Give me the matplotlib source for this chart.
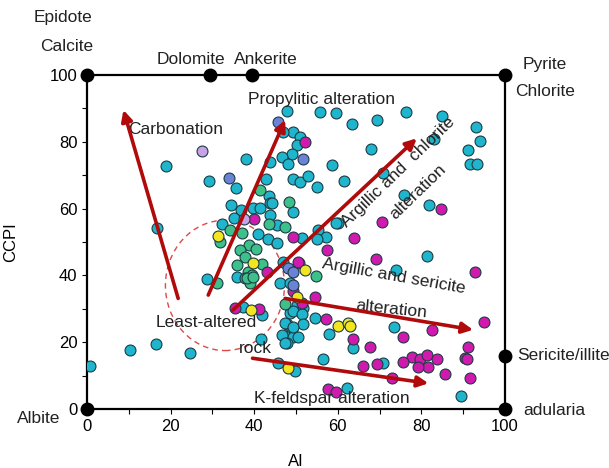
import matplotlib
matplotlib.use('Agg')
import matplotlib.pyplot as plt
from matplotlib.patches import Ellipse

plt.rcParams['font.family'] = ['Liberation Sans', 'DejaVu Sans']

# sample points (AI, CCPI) grouped by colour
cyan_x = [47.8, 55.7, 59.5, 63.3, 69.3, 76.3, 84.9, 93.1, 94.0, 91.2, 91.6, 93.4, 83.0, 67.9, 58.6,
          49.4, 47.0, 51.0, 50.3, 49.0, 46.6, 48.2, 38.0, 43.8, 18.9,
          29.3, 35.6, 42.8, 49.2, 51.0, 52.9, 55.0, 61.5, 70.8,
          43.5, 43.8, 49.4, 34.4, 36.8, 39.8, 41.5, 44.2,
          75.8, 81.8, 60.1, 55.3, 57.3, 59.7,
          35.2, 32.2, 43.8, 45.5, 41.0, 51.4, 55.1, 43.4, 45.4, 16.8,
          81.4, 73.9, 46.8, 35.8, 46.2, 48.6, 28.6, 50.2, 51.7,
          37.4, 41.8, 48.6, 49.4, 51.4, 54.5, 47.8, 51.6, 49.0, 47.4, 49.4, 50.6, 46.6, 47.8,
          58.0, 63.6, 41.6, 56.4, 45.6, 49.8, 70.9, 62.1, 89.6, 73.5, 47.4, 49.4, 47.4,
          0.7, 10.3, 16.5, 24.6]
cyan_y = [89.3, 89.0, 88.5, 85.3, 86.5, 88.8, 87.8, 84.5, 80.2, 77.5, 73.4, 73.4, 80.8, 77.8, 73.1,
          83.0, 83.0, 81.3, 79.0, 76.3, 75.5, 73.3, 74.9, 73.9, 72.8,
          68.1, 66.1, 68.9, 68.9, 67.8, 69.6, 66.4, 68.1, 70.6,
          63.8, 61.8, 59.1, 61.1, 59.6, 60.1, 60.1, 61.8,
          64.1, 61.1, 55.6, 53.6, 51.6, 55.6,
          57.1, 55.4, 58.1, 55.1, 52.3, 51.1, 50.8, 50.8, 49.6, 54.1,
          45.8, 41.6, 44.1, 39.4, 37.6, 37.6, 38.9, 31.1, 30.1,
          30.6, 28.1, 28.6, 29.4, 28.4, 27.2, 25.4, 25.4, 23.9, 21.9, 21.6, 21.6, 22.2, 19.9,
          22.4, 18.4, 20.9, 15.0, 13.7, 11.5, 13.7, 6.2, 3.9, 24.5, 25.7, 24.6, 19.7,
          13.0, 17.7, 19.5, 16.9]

magenta_x = [52.2, 40.0, 49.4, 70.7, 84.6, 63.9, 57.5, 69.1, 92.9, 50.8, 43.1, 50.6, 49.2, 54.5,
             51.4, 35.4, 41.2, 57.2, 63.6, 67.6, 75.5, 82.5, 95.0, 91.1, 90.4, 91.0, 91.6,
             77.7, 79.8, 81.4, 83.8, 81.7, 79.1, 75.7, 69.4, 66.1, 85.6, 73.1, 57.7, 59.6]
magenta_y = [80.0, 56.9, 51.5, 56.1, 59.9, 51.2, 47.6, 44.8, 41.1, 43.8, 41.1, 44.1, 35.3, 33.6,
             31.6, 30.2, 29.9, 26.9, 21.0, 18.7, 21.5, 23.6, 26.1, 18.6, 15.2, 14.9, 9.4,
             15.7, 14.9, 16.2, 14.9, 12.5, 12.7, 14.2, 13.5, 12.8, 10.4, 9.4, 6.0, 5.1]

green_x = [41.4, 48.3, 34.2, 31.8, 37.0, 43.6, 47.4, 38.8, 40.4, 36.6, 37.8, 41.8, 36.0, 38.6,
           39.4, 37.8, 39.0, 31.0, 54.8, 47.4, 38.2, 39.8]
green_y = [65.4, 62.1, 53.5, 50.1, 52.6, 55.4, 54.6, 49.1, 47.8, 47.6, 45.6, 43.3, 43.1, 41.1,
           40.1, 39.1, 37.6, 37.8, 39.9, 31.5, 39.1, 39.6]

yellow_x = [31.4, 39.8, 52.1, 39.2, 50.3, 60.0, 62.4, 62.9, 48.1]
yellow_y = [51.9, 43.8, 41.5, 29.7, 33.4, 24.9, 25.8, 24.8, 12.3]

blue_x = [45.7, 34.0, 51.7, 48.2, 49.2, 49.4]
blue_y = [85.9, 69.0, 74.8, 42.1, 41.1, 37.1]

lilac_x = [27.4, 37.6]
lilac_y = [77.3, 56.9]

# alteration trend arrows: tail -> head
arrow_tail = [(21.8, 33.1), (29.0, 34.1), (34.9, 29.6), (47.4, 33.1), (39.6, 15.2)]
arrow_head = [(8.7, 89.5), (47.4, 86.5), (78.9, 81.0), (92.4, 23.7), (81.7, 7.7)]

# end-member minerals on the box
top_x = [0, 29.5, 39.5, 100]
top_y = [100, 100, 100, 100]
side_x = [0, 100, 100]
side_y = [0, 0, 16]

fig = plt.figure(figsize=(6.09, 4.68), dpi=100)
ax = fig.add_axes([0.143, 0.126, 0.686, 0.714])

ax.add_patch(Ellipse((33.0, 37.0), 28.5, 39.0, fill=False, ls=(0, (4, 3)),
                     lw=1.0, ec='#e04848'))

ec = '#1d3b44'
s = 62
ax.scatter(cyan_x, cyan_y, s=s, c='#1fb5cc', edgecolors=ec, linewidths=0.8, zorder=3)
ax.scatter(green_x, green_y, s=s, c='#3dc08a', edgecolors=ec, linewidths=0.8, zorder=3)
ax.scatter(magenta_x, magenta_y, s=s, c='#d01aae', edgecolors=ec, linewidths=0.8, zorder=3)
ax.scatter(yellow_x, yellow_y, s=s, c='#f2e522', edgecolors=ec, linewidths=0.8, zorder=3)
ax.scatter(blue_x, blue_y, s=s, c='#6b83d6', edgecolors=ec, linewidths=0.8, zorder=3)
ax.scatter(lilac_x, lilac_y, s=s, c='#c8a2e6', edgecolors=ec, linewidths=0.8, zorder=3)

for t, h in zip(arrow_tail, arrow_head):
    ax.annotate('', xy=h, xytext=t,
                arrowprops=dict(arrowstyle='-|>', color='#b00a0a', lw=2.6,
                                mutation_scale=16, shrinkA=0, shrinkB=0),
                zorder=4)

ax.plot(top_x, top_y, 'o', color='black', ms=9, clip_on=False, zorder=5)
ax.plot(side_x, side_y, 'o', color='black', ms=9, clip_on=False, zorder=5)

ax.set_xlim(0, 100)
ax.set_ylim(0, 100)
for sp in ax.spines.values():
    sp.set_linewidth(1.6)
ax.set_xticks(range(0, 101, 20))
ax.set_xticks(range(0, 101, 10), minor=True)
ax.set_yticks(range(0, 101, 20))
ax.set_yticks(range(0, 101, 10), minor=True)
ax.tick_params(which='both', direction='out', length=3.5, width=0.8, labelsize=12)
ax.set_xlabel('AI', fontsize=12)
ax.set_ylabel('CCPI', fontsize=12)
ax.xaxis.set_label_coords(0.5, -0.135)
ax.yaxis.set_label_coords(-0.165, 0.5)

fs = 12.5
kw = dict(fontsize=fs, clip_on=False, color='#222222')
ax.text(-5.7, 117.1, 'Epidote', ha='center', va='center', **kw)
ax.text(-5.0, 108.4, 'Calcite', ha='center', va='center', **kw)
ax.text(24.9, 104.5, 'Dolomite', ha='center', va='center', **kw)
ax.text(42.8, 104.5, 'Ankerite', ha='center', va='center', **kw)
ax.text(109.6, 103.0, 'Pyrite', ha='center', va='center', **kw)
ax.text(109.6, 94.9, 'Chlorite', ha='center', va='center', **kw)
ax.text(102.9, 15.9, 'Sericite/illite', ha='left', va='center', **kw)
ax.text(104.3, -0.3, 'adularia', ha='left', va='center', **kw)
ax.text(-11.7, -2.7, 'Albite', ha='center', va='center', **kw)
ax.text(56.2, 92.5, 'Propylitic alteration', ha='center', va='center', **kw)
ax.text(21.1, 83.8, 'Carbonation', ha='center', va='center', **kw)
ax.text(74.5, 70.8, 'Argillic and  chlorite', ha='center', va='center', rotation=44, **kw)
ax.text(79.1, 65.1, 'alteration', ha='center', va='center', rotation=44, **kw)
ax.text(73.4, 39.8, 'Argillic and sericite', ha='center', va='center', rotation=-10, **kw)
ax.text(72.9, 29.9, 'alteration', ha='center', va='center', rotation=-6, **kw)
ax.text(28.5, 26.0, 'Least-altered', ha='center', va='center', **kw)
ax.text(40.2, 18.0, 'rock', ha='center', va='center', **kw)
ax.text(58.6, 3.3, 'K-feldspar alteration', ha='center', va='center', **kw)

fig.savefig('out.png', dpi=100)
